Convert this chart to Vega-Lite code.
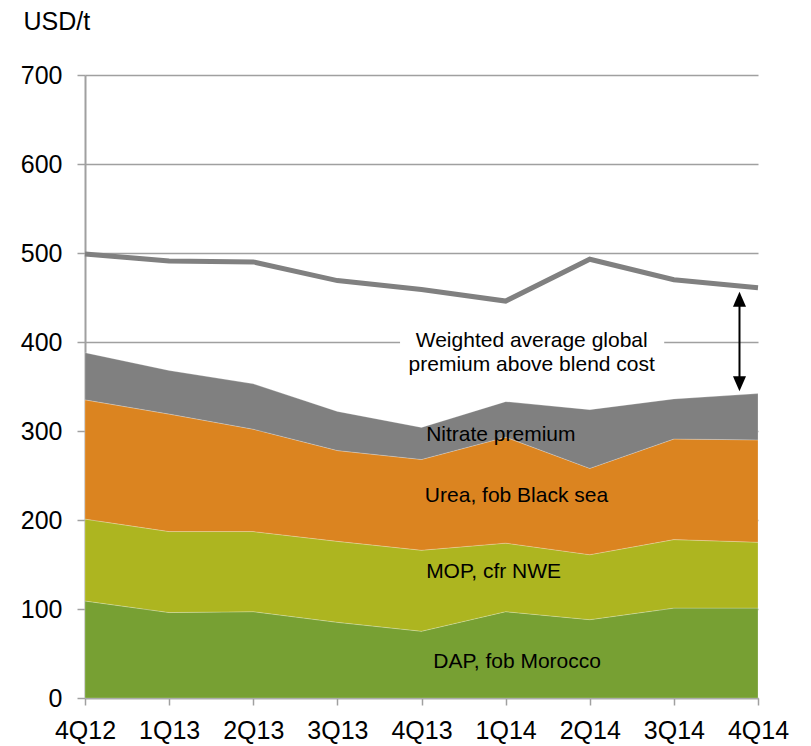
{
  "$schema": "https://vega.github.io/schema/vega-lite/v6.json",
  "width": 673,
  "height": 623,
  "autosize": {"type": "none"},
  "padding": {"left": 85, "top": 75, "right": 53, "bottom": 48},
  "background": "white",
  "config": {
    "font": "Liberation Sans",
    "view": {"stroke": null}
  },
  "datasets": {
    "stack": [
      {"q": "4Q12", "s": "DAP, fob Morocco", "k": 1, "v": 109},
      {"q": "4Q12", "s": "MOP, cfr NWE", "k": 2, "v": 92},
      {"q": "4Q12", "s": "Urea, fob Black sea", "k": 3, "v": 134},
      {"q": "4Q12", "s": "Nitrate premium", "k": 4, "v": 53},
      {"q": "1Q13", "s": "DAP, fob Morocco", "k": 1, "v": 96},
      {"q": "1Q13", "s": "MOP, cfr NWE", "k": 2, "v": 91},
      {"q": "1Q13", "s": "Urea, fob Black sea", "k": 3, "v": 132},
      {"q": "1Q13", "s": "Nitrate premium", "k": 4, "v": 49},
      {"q": "2Q13", "s": "DAP, fob Morocco", "k": 1, "v": 97},
      {"q": "2Q13", "s": "MOP, cfr NWE", "k": 2, "v": 90},
      {"q": "2Q13", "s": "Urea, fob Black sea", "k": 3, "v": 115},
      {"q": "2Q13", "s": "Nitrate premium", "k": 4, "v": 51},
      {"q": "3Q13", "s": "DAP, fob Morocco", "k": 1, "v": 85},
      {"q": "3Q13", "s": "MOP, cfr NWE", "k": 2, "v": 91},
      {"q": "3Q13", "s": "Urea, fob Black sea", "k": 3, "v": 102},
      {"q": "3Q13", "s": "Nitrate premium", "k": 4, "v": 44},
      {"q": "4Q13", "s": "DAP, fob Morocco", "k": 1, "v": 75},
      {"q": "4Q13", "s": "MOP, cfr NWE", "k": 2, "v": 91},
      {"q": "4Q13", "s": "Urea, fob Black sea", "k": 3, "v": 102},
      {"q": "4Q13", "s": "Nitrate premium", "k": 4, "v": 36},
      {"q": "1Q14", "s": "DAP, fob Morocco", "k": 1, "v": 97},
      {"q": "1Q14", "s": "MOP, cfr NWE", "k": 2, "v": 77},
      {"q": "1Q14", "s": "Urea, fob Black sea", "k": 3, "v": 119},
      {"q": "1Q14", "s": "Nitrate premium", "k": 4, "v": 40},
      {"q": "2Q14", "s": "DAP, fob Morocco", "k": 1, "v": 88},
      {"q": "2Q14", "s": "MOP, cfr NWE", "k": 2, "v": 73},
      {"q": "2Q14", "s": "Urea, fob Black sea", "k": 3, "v": 97},
      {"q": "2Q14", "s": "Nitrate premium", "k": 4, "v": 66},
      {"q": "3Q14", "s": "DAP, fob Morocco", "k": 1, "v": 101},
      {"q": "3Q14", "s": "MOP, cfr NWE", "k": 2, "v": 77},
      {"q": "3Q14", "s": "Urea, fob Black sea", "k": 3, "v": 113},
      {"q": "3Q14", "s": "Nitrate premium", "k": 4, "v": 45},
      {"q": "4Q14", "s": "DAP, fob Morocco", "k": 1, "v": 101},
      {"q": "4Q14", "s": "MOP, cfr NWE", "k": 2, "v": 74},
      {"q": "4Q14", "s": "Urea, fob Black sea", "k": 3, "v": 115},
      {"q": "4Q14", "s": "Nitrate premium", "k": 4, "v": 52}
    ],
    "avg": [
      {"q": "4Q12", "v": 499},
      {"q": "1Q13", "v": 491},
      {"q": "2Q13", "v": 490},
      {"q": "3Q13", "v": 469},
      {"q": "4Q13", "v": 459},
      {"q": "1Q14", "v": 446},
      {"q": "2Q14", "v": 493},
      {"q": "3Q14", "v": 470},
      {"q": "4Q14", "v": 461}
    ]
  },
  "layer": [
    {
      "layer": [
        {
          "data": {"name": "stack"},
          "mark": {"type": "area", "stroke": "#ffffff", "strokeWidth": 0.5, "strokeOpacity": 0.45},
          "encoding": {
            "x": {
              "field": "q", "type": "ordinal",
              "sort": ["4Q12", "1Q13", "2Q13", "3Q13", "4Q13", "1Q14", "2Q14", "3Q14", "4Q14"],
              "scale": {"type": "point", "padding": 0},
              "axis": {
                "title": null, "labelAngle": 0, "labelFontSize": 25, "labelColor": "#000000",
                "labelPadding": 13, "tickSize": 7, "tickColor": "#a0a0a0", "tickWidth": 1.5,
                "domainColor": "#a0a0a0", "domainWidth": 1.5, "grid": false
              }
            },
            "y": {
              "field": "v", "type": "quantitative", "stack": "zero",
              "scale": {"domain": [0, 700], "nice": false},
              "axis": {
                "values": [0, 100, 200, 300, 400, 500, 600, 700],
                "title": "USD/t", "titleFontSize": 25, "titleFontWeight": "normal", "titleColor": "#000000",
                "titleAngle": 0, "titleAlign": "left", "titleBaseline": "alphabetic",
                "titleX": -62, "titleY": -46,
                "labelFontSize": 25, "labelColor": "#000000", "labelPadding": 15,
                "tickSize": 8, "tickColor": "#a0a0a0", "tickWidth": 1.5,
                "domainColor": "#a0a0a0", "domainWidth": 2,
                "grid": true, "gridColor": "#a0a0a0", "gridWidth": 1.5
              }
            },
            "color": {
              "field": "s", "type": "nominal",
              "scale": {
                "domain": ["DAP, fob Morocco", "MOP, cfr NWE", "Urea, fob Black sea", "Nitrate premium"],
                "range": ["#77a033", "#adb520", "#db8420", "#808080"]
              },
              "legend": null
            },
            "order": {"field": "k", "type": "quantitative", "sort": "ascending"}
          }
        },
        {
          "data": {"name": "avg"},
          "mark": {"type": "line", "color": "#808080", "strokeWidth": 5},
          "encoding": {
            "x": {
              "field": "q", "type": "ordinal",
              "sort": ["4Q12", "1Q13", "2Q13", "3Q13", "4Q13", "1Q14", "2Q14", "3Q14", "4Q14"]
            },
            "y": {"field": "v", "type": "quantitative"}
          }
        }
      ]
    },
    {
      "data": {"values": [{}]},
      "layer": [
        {
          "mark": {"type": "rect", "fill": "#ffffff"},
          "encoding": {
            "x": {"datum": 3.745, "type": "quantitative", "scale": {"domain": [0, 8], "nice": false, "zero": false}, "axis": null},
            "x2": {"datum": 6.885},
            "y": {"datum": 372, "type": "quantitative"},
            "y2": {"datum": 430}
          }
        },
        {
          "mark": {"type": "text", "text": ["Weighted average global", "premium above blend cost"], "fontSize": 21, "lineHeight": 24, "align": "center", "baseline": "middle", "color": "#000000"},
          "encoding": {
            "x": {"datum": 5.31, "type": "quantitative"},
            "y": {"datum": 401, "type": "quantitative"}
          }
        },
        {
          "mark": {"type": "rule", "color": "#000000", "strokeWidth": 2},
          "encoding": {
            "x": {"datum": 7.78, "type": "quantitative"},
            "y": {"datum": 449, "type": "quantitative"},
            "y2": {"datum": 352}
          }
        },
        {
          "mark": {"type": "point", "shape": "M0,-1L-0.87,1L0.87,1Z", "size": 225, "filled": true, "color": "#000000", "opacity": 1},
          "encoding": {
            "x": {"datum": 7.78, "type": "quantitative"},
            "y": {"datum": 448, "type": "quantitative"}
          }
        },
        {
          "mark": {"type": "point", "shape": "M0,1L-0.87,-1L0.87,-1Z", "size": 225, "filled": true, "color": "#000000", "opacity": 1},
          "encoding": {
            "x": {"datum": 7.78, "type": "quantitative"},
            "y": {"datum": 353, "type": "quantitative"}
          }
        },
        {
          "mark": {"type": "text", "text": "Nitrate premium", "fontSize": 21, "align": "left", "baseline": "middle", "color": "#000000"},
          "encoding": {
            "x": {"datum": 4.055, "type": "quantitative"},
            "y": {"datum": 296, "type": "quantitative"}
          }
        },
        {
          "mark": {"type": "text", "text": "Urea, fob Black sea", "fontSize": 21, "align": "left", "baseline": "middle", "color": "#000000"},
          "encoding": {
            "x": {"datum": 4.04, "type": "quantitative"},
            "y": {"datum": 227, "type": "quantitative"}
          }
        },
        {
          "mark": {"type": "text", "text": "MOP, cfr NWE", "fontSize": 21, "align": "left", "baseline": "middle", "color": "#000000"},
          "encoding": {
            "x": {"datum": 4.055, "type": "quantitative"},
            "y": {"datum": 142, "type": "quantitative"}
          }
        },
        {
          "mark": {"type": "text", "text": "DAP, fob Morocco", "fontSize": 21, "align": "left", "baseline": "middle", "color": "#000000"},
          "encoding": {
            "x": {"datum": 4.14, "type": "quantitative"},
            "y": {"datum": 41, "type": "quantitative"}
          }
        }
      ]
    }
  ],
  "resolve": {"scale": {"x": "independent"}, "axis": {"x": "independent"}}
}
